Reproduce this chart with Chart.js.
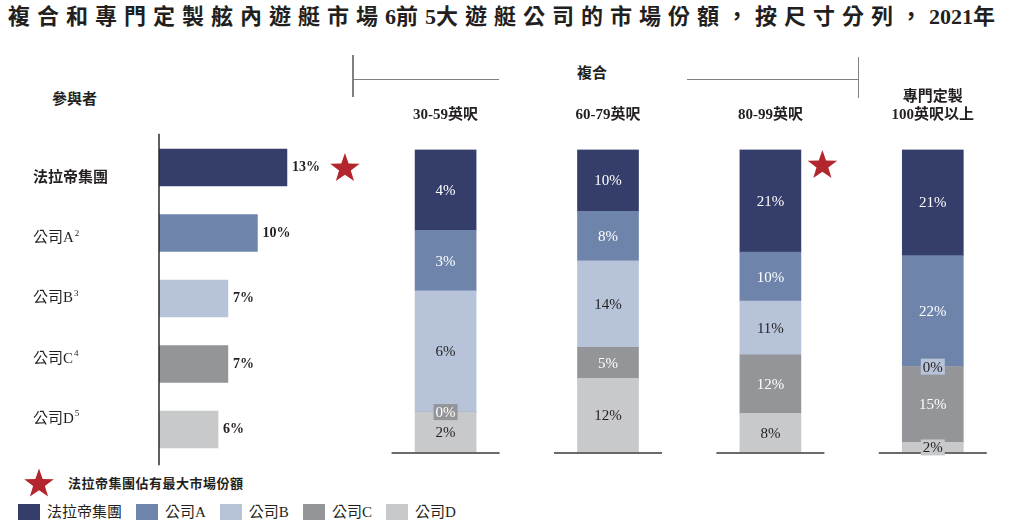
<!DOCTYPE html>
<html>
<head>
<meta charset="utf-8">
<script src="https://cdn.jsdelivr.net/npm/chart.js@4.4.1/dist/chart.umd.min.js"></script>
<style>
  body { margin: 0; width: 1014px; height: 531px; overflow: hidden; position: relative; background: #fff;
         font-family: 'Liberation Serif', 'Noto Sans CJK TC', serif; color: #231f20; }
  canvas { position: absolute; left: 0; top: 0; }
  .txt { position: absolute; line-height: 1; white-space: nowrap; }
  #title { left: 8px; top: 6px; font-size: 22px; font-weight: bold; letter-spacing: 7px; }
  #title .num { letter-spacing: 0; }
  .hd { font-size: 15px; font-weight: bold; }
  .rule { position: absolute; background: #808080; }
  #legend { position: absolute; left: 18px; top: 504px; display: flex; align-items: center; font-size: 15px; line-height: 1; }
  #legend .item { display: flex; align-items: center; margin-right: 14px; }
  #legend .sw { width: 22px; height: 16px; margin-right: 7px; }
</style>
</head>
<body>
<div class="txt" id="title">複合和專門定製舷內遊艇市場<span class="num">6</span>前<span class="num">5</span>大遊艇公司的市場份額，按尺寸分列，<span class="num">2021</span>年</div>
<div class="txt hd" style="left:52px; top:92px">參與者</div>
<div class="txt hd" style="left:577px; top:66px">複合</div>
<div class="rule" style="left:352px; top:55px; width:1.5px; height:42px"></div>
<div class="rule" style="left:352px; top:78.5px; width:147px; height:1.5px"></div>
<div class="rule" style="left:687px; top:78.5px; width:171px; height:1.5px"></div>
<div class="rule" style="left:857.5px; top:57px; width:1.5px; height:41px"></div>
<div class="txt" style="left:68px; top:477px; font-size:13px; font-weight:bold; letter-spacing:0.5px">法拉帝集團佔有最大市場份額</div>
<div id="legend"></div>
<canvas id="players" width="1014" height="531"></canvas>
<canvas id="sizes" width="1014" height="531"></canvas>
<script>
// overall share of the top 5 players
const players = ['法拉帝集團', '公司A', '公司B', '公司C', '公司D'];
const playerNotes = ['', '2', '3', '4', '5'];
const playerShare = [13, 10, 7, 7, 6];

// share by size segment
const sizeLabels = [['30-59英呎'], ['60-79英呎'], ['80-99英呎'], ['專門定製', '100英呎以上']];
const ferrettiShare = [4, 10, 21, 21];
const companyAShare = [3, 8, 10, 22];
const companyBShare = [6, 14, 11, 0];
const companyCShare = [0, 5, 12, 15];
const companyDShare = [2, 12, 8, 2];

const colors = ['#353d6b', '#6f84ab', '#b6c3d8', '#949599', '#c8c9cb'];
const labelColors = ['#ffffff', '#ffffff', '#231f20', '#ffffff', '#231f20'];
const starRed = '#b3262e';
const ink = '#231f20';
const serif = "'Liberation Serif', 'Noto Sans CJK TC', serif";

function drawStar(ctx, cx, cy, r) {
    ctx.beginPath();
    for (let i = 0; i < 10; i++) {
        const rad = i % 2 ? r * 0.4 : r;
        const a = -Math.PI / 2 + i * Math.PI / 5;
        ctx.lineTo(cx + rad * Math.cos(a), cy + rad * Math.sin(a));
    }
    ctx.closePath();
    ctx.fillStyle = starRed;
    ctx.fill();
}

// legend row
const legend = document.getElementById('legend');
players.forEach((name, i) => {
    const item = document.createElement('div');
    item.className = 'item';
    item.innerHTML = '<div class="sw" style="background:' + colors[i] + '"></div><span>' + name + '</span>';
    legend.appendChild(item);
});

// left: horizontal bars
const playersPlugin = {
    id: 'playersPlugin',
    afterDatasetsDraw(chart) {
        const ctx = chart.ctx;
        const area = chart.chartArea;
        ctx.save();
        ctx.strokeStyle = '#2a2a2a';
        ctx.lineWidth = 1.5;
        ctx.beginPath();
        ctx.moveTo(area.left, area.top - 1);
        ctx.lineTo(area.left, area.bottom + 3);
        ctx.stroke();

        const mid = (area.top + area.bottom) / 2;
        const bars = chart.getDatasetMeta(0).data;
        const maxShare = Math.max(...playerShare);
        ctx.textBaseline = 'middle';
        bars.forEach((bar, i) => {
            // names sit on a slightly tighter pitch than the bars
            const ly = mid + (bar.y - mid) * 0.92;
            ctx.fillStyle = ink;
            ctx.textAlign = 'left';
            ctx.font = (i === 0 ? 'bold ' : '') + '15px ' + serif;
            ctx.fillText(players[i], 33, ly);
            if (playerNotes[i]) {
                const w = ctx.measureText(players[i]).width;
                ctx.font = '9px ' + serif;
                ctx.fillText(playerNotes[i], 33 + w + 1, ly - 5);
            }
            ctx.font = 'bold 14px ' + serif;
            ctx.fillText(playerShare[i] + '%', bar.x + 5, bar.y);
            if (playerShare[i] === maxShare) {
                drawStar(ctx, bar.x + 58, bar.y + 1, 15.5);
            }
        });
        // legend star
        drawStar(ctx, 39, 484, 15.5);
        ctx.restore();
    }
};

new Chart(document.getElementById('players'), {
    type: 'bar',
    data: {
        labels: players,
        datasets: [{
            data: playerShare,
            backgroundColor: colors,
            barThickness: 37
        }]
    },
    options: {
        indexAxis: 'y',
        responsive: false,
        animation: false,
        layout: { padding: { left: 159, right: 658.2, top: 134.75, bottom: 68.75 } },
        plugins: { legend: { display: false }, tooltip: { enabled: false } },
        scales: {
            x: { display: false, min: 0, max: 20 },
            y: { display: false }
        }
    },
    plugins: [playersPlugin]
});

// right: stacked columns, each column scaled to its own total
const bySize = [ferrettiShare, companyAShare, companyBShare, companyCShare, companyDShare];
const totals = sizeLabels.map((_, i) => bySize.reduce((s, arr) => s + arr[i], 0));

const sizeDatasets = bySize.map((arr, k) => ({
    label: players[k],
    data: arr.map((v, i) => v / totals[i] * 100),
    raw: arr,
    textColor: labelColors[k],
    backgroundColor: colors[k],
    barThickness: 61
})).reverse();

const sizesPlugin = {
    id: 'sizesPlugin',
    afterDatasetsDraw(chart) {
        const ctx = chart.ctx;
        const area = chart.chartArea;
        const xs = chart.scales.x;
        ctx.save();
        // column headers and base lines
        ctx.textAlign = 'center';
        ctx.textBaseline = 'middle';
        ctx.font = 'bold 15px ' + serif;
        sizeLabels.forEach((lines, i) => {
            const cx = xs.getPixelForValue(i);
            ctx.fillStyle = ink;
            lines.forEach((line, j) => {
                ctx.fillText(line, cx, area.top - 34.5 - (lines.length - 1 - j) * 18);
            });
            ctx.strokeStyle = '#3a3a3a';
            ctx.lineWidth = 1.5;
            ctx.beginPath();
            ctx.moveTo(cx - 54, area.bottom + 0.5);
            ctx.lineTo(cx + 54, area.bottom + 0.5);
            ctx.stroke();
            const leader = bySize.every(arr => arr[i] <= ferrettiShare[i]);
            if (leader) drawStar(ctx, cx + 52, area.top + 16, 15.5);
        });
        // segment values
        ctx.font = '15px ' + serif;
        chart.data.datasets.forEach((ds, di) => {
            chart.getDatasetMeta(di).data.forEach((bar, i) => {
                const top = Math.min(bar.y, bar.base);
                const bottom = Math.max(bar.y, bar.base);
                const cy = (top + bottom) / 2;
                const text = ds.raw[i] + '%';
                if (bottom - top < 18) {
                    const w = ctx.measureText(text).width + 4;
                    ctx.fillStyle = ds.backgroundColor;
                    ctx.fillRect(bar.x - w / 2, cy - 8, w, 16);
                }
                ctx.fillStyle = ds.textColor;
                ctx.fillText(text, bar.x, cy + 1);
            });
        });
        ctx.restore();
    }
};

new Chart(document.getElementById('sizes'), {
    type: 'bar',
    data: { labels: sizeLabels, datasets: sizeDatasets },
    options: {
        responsive: false,
        animation: false,
        layout: { padding: { left: 364.4, right: 0, top: 149.5, bottom: 78.5 } },
        plugins: { legend: { display: false }, tooltip: { enabled: false } },
        scales: {
            x: { display: false, stacked: true },
            y: { display: false, stacked: true, min: 0, max: 100 }
        }
    },
    plugins: [sizesPlugin]
});
</script>
</body>
</html>
